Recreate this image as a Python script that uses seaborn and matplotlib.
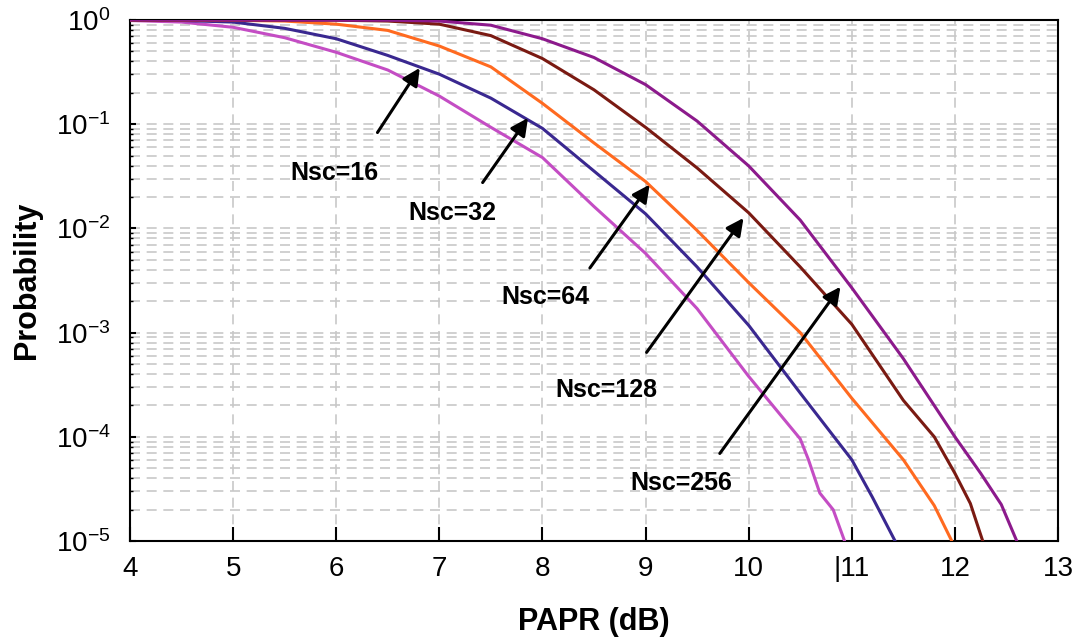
import matplotlib
matplotlib.use('Agg')
import matplotlib.pyplot as plt
import seaborn as sns
import numpy as np
import pandas as pd
from matplotlib.ticker import LogLocator, LogFormatterMathtext, NullFormatter

sns.set_style('white')
plt.rcParams['font.family'] = ['Liberation Sans', 'DejaVu Sans']
plt.rcParams['text.color'] = 'black'
plt.rcParams['axes.labelcolor'] = 'black'
plt.rcParams['xtick.color'] = 'black'
plt.rcParams['ytick.color'] = 'black'

# PAPR (dB) and log10(probability)
x_16 = [4, 4.5, 5, 5.5, 6, 6.5, 7, 7.5, 8, 8.5, 9, 9.5, 10, 10.5, 10.58, 10.69, 10.82, 10.93]
lp_16 = [-0.005, -0.02, -0.07, -0.17, -0.31, -0.48, -0.73, -1.03, -1.32, -1.79, -2.24, -2.77,
         -3.42, -4.02, -4.22, -4.54, -4.7, -5.0]
x_32 = [4, 4.5, 5, 5.5, 6, 6.5, 7, 7.5, 8, 8.5, 9, 9.5, 10, 10.5, 11, 11.2, 11.42]
lp_32 = [-0.002, -0.005, -0.02, -0.08, -0.18, -0.34, -0.52, -0.75, -1.04, -1.45, -1.86, -2.37,
         -2.93, -3.58, -4.22, -4.58, -5.0]
x_64 = [4, 5, 5.5, 6, 6.5, 7, 7.5, 8, 8.5, 9, 9.5, 10, 10.5, 11, 11.5, 11.8, 11.97]
lp_64 = [0.0, -0.003, -0.01, -0.04, -0.1, -0.25, -0.45, -0.8, -1.18, -1.55, -2.02, -2.52,
         -3.0, -3.63, -4.22, -4.66, -5.0]
x_128 = [4, 6, 6.5, 7, 7.5, 8, 8.5, 9, 9.5, 10, 10.5, 11, 11.5, 11.8, 12, 12.15, 12.27]
lp_128 = [0.0, -0.002, -0.01, -0.04, -0.15, -0.37, -0.67, -1.03, -1.42, -1.85, -2.37, -2.92,
          -3.65, -4.0, -4.35, -4.64, -5.0]
x_256 = [4, 6.5, 7, 7.5, 8, 8.5, 9, 9.5, 10, 10.5, 11, 11.5, 12, 12.25, 12.45, 12.6]
lp_256 = [0.0, -0.002, -0.01, -0.05, -0.18, -0.36, -0.62, -0.97, -1.40, -1.92, -2.57, -3.25,
          -4.0, -4.35, -4.65, -5.0]

series = ['Nsc=16', 'Nsc=32', 'Nsc=64', 'Nsc=128', 'Nsc=256']
colors = ['#c44dc4', '#3a2890', '#ff6a20', '#7a1a12', '#8c1a8c']

# label position, arrow tail, arrow tip (PAPR, log10 p)
labels = {
    'Nsc=16': ((5.98, -1.47), (6.40, -1.08), (6.81, -0.46)),
    'Nsc=32': ((7.13, -1.85), (7.42, -1.56), (7.86, -0.94)),
    'Nsc=64': ((8.03, -2.66), (8.46, -2.38), (9.04, -1.58)),
    'Nsc=128': ((8.62, -3.55), (9.01, -3.19), (9.95, -1.90)),
    'Nsc=256': ((9.35, -4.44), (9.72, -4.16), (10.89, -2.56)),
}

xs = [x_16, x_32, x_64, x_128, x_256]
lps = [lp_16, lp_32, lp_64, lp_128, lp_256]
frames = []
for name, x, lp in zip(series, xs, lps):
    frames.append(pd.DataFrame({'papr': x, 'prob': 10.0 ** np.array(lp), 'Nsc': name}))
df = pd.concat(frames, ignore_index=True)

fig = plt.figure(figsize=(10.8, 6.4), dpi=100)
ax = fig.add_axes([130 / 1080, 1 - 541 / 640, 928 / 1080, 521 / 640])

sns.lineplot(data=df, x='papr', y='prob', hue='Nsc', palette=colors, hue_order=series,
             linewidth=2.2, legend=False, sort=False, estimator=None, ax=ax, zorder=3)

ax.set_yscale('log')
ax.set_xlim(4, 13)
ax.set_ylim(1e-5, 1)
ax.set_xticks(range(4, 14))
ax.set_xticklabels(['4', '5', '6', '7', '8', '9', '10', '|11', '12', '13'])
ax.yaxis.set_major_locator(LogLocator(base=10, numticks=10))
ax.yaxis.set_major_formatter(LogFormatterMathtext())
ax.yaxis.set_minor_locator(LogLocator(base=10, subs=np.arange(2, 10), numticks=20))
ax.yaxis.set_minor_formatter(NullFormatter())

grid_kw = dict(color='#c8c8c8', linestyle=(0, (6, 4)), linewidth=1.2)
ax.grid(True, which='both', axis='y', **grid_kw)
ax.grid(True, which='major', axis='x', **grid_kw)
ax.set_axisbelow(True)

ax.tick_params(axis='x', which='major', direction='in', length=10, width=1.5,
               pad=11, labelsize=20, bottom=True, top=False)
ax.tick_params(axis='y', which='major', direction='in', length=4, width=1.5,
               pad=14, labelsize=20, left=True, right=False)
ax.tick_params(axis='y', which='minor', direction='in', length=2, width=1, left=True, right=False)
for s in ax.spines.values():
    s.set_color('black')
    s.set_linewidth(1.5)

ax.set_xlabel('PAPR (dB)', fontsize=22, fontweight='bold', labelpad=18)
ax.set_ylabel('Probability', fontsize=22, fontweight='bold', labelpad=10)

for name in series:
    (tx, ty), (ax0, ay0), (ax1, ay1) = labels[name]
    ax.annotate('', xy=(ax1, 10 ** ay1), xytext=(ax0, 10 ** ay0),
                arrowprops=dict(arrowstyle='-|>', color='black', lw=2.2, mutation_scale=26,
                                shrinkA=0, shrinkB=0), zorder=5)
    ax.text(tx, 10 ** ty, name, fontsize=18, fontweight='bold', ha='center', va='center', zorder=5)

fig.savefig('out.png', dpi=100)
